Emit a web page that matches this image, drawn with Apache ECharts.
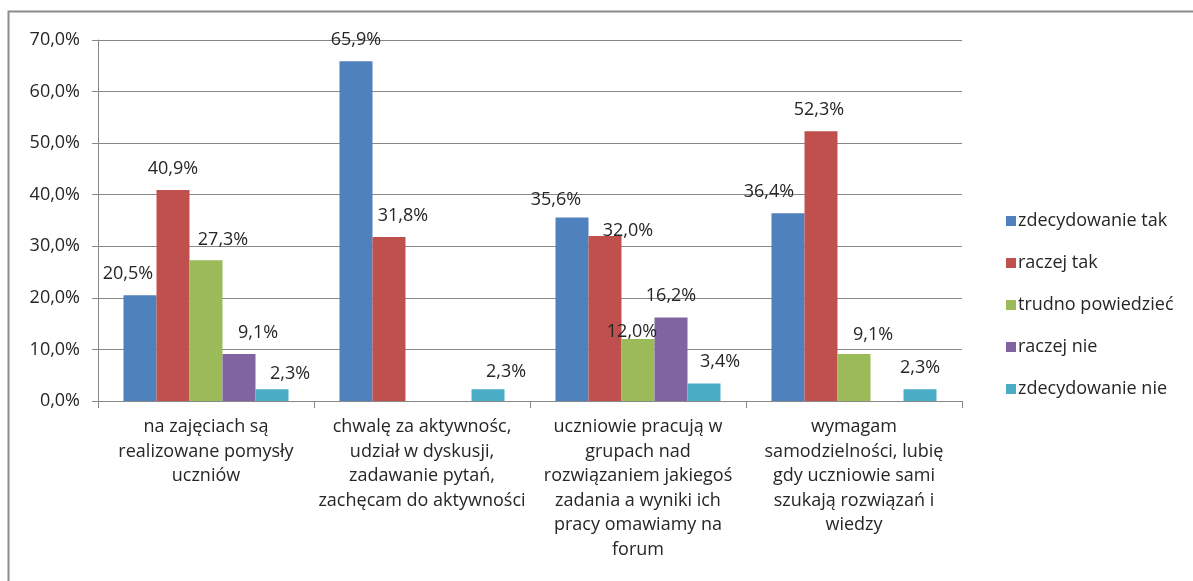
<!DOCTYPE html>
<html>
<head>
<meta charset="utf-8">
<script src="https://cdn.jsdelivr.net/npm/echarts@6/dist/echarts.min.js"></script>
<style>html,body{margin:0;padding:0;background:#fff}#c{width:1193px;height:581px}</style>
</head>
<body>
<div id="c"></div>
<script>
var categories = [
  'na zajęciach są\nrealizowane pomysły\nuczniów',
  'chwalę za aktywnośc,\nudział w dyskusji,\nzadawanie pytań,\nzachęcam do aktywności',
  'uczniowie pracują w\ngrupach nad\nrozwiązaniem jakiegoś\nzadania a wyniki ich\npracy omawiamy na\nforum',
  'wymagam\nsamodzielności, lubię\ngdy uczniowie sami\nszukają rozwiązań i\nwiedzy'
];
var seriesNames = ['zdecydowanie tak', 'raczej tak', 'trudno powiedzieć', 'raczej nie', 'zdecydowanie nie'];
var zdecydowanieTak = [20.5, 65.9, 35.6, 36.4];
var raczejTak = [40.9, 31.8, 32.0, 52.3];
var trudnoPowiedziec = [27.3, null, 12.0, 9.1];
var raczejNie = [9.1, null, 16.2, null];
var zdecydowanieNie = [2.3, 2.3, 3.4, 2.3];
var yTicks = { min: 0, max: 70, interval: 10 };

var colors = ['#4F81BD', '#C0504D', '#9BBB59', '#8064A2', '#4BACC6'];
// label nudges (dx, dy) per series per category, mimicking the reference's label placement
var labelNudges = [
  [[-12, 0], [0, 0], [-16, 3], [-19, 0]],
  [[0, 0], [14, 0], [23, 16], [-2, 0]],
  [[17, 1], [0, 0], [-6, 14], [19, 2]],
  [[19, 0], [0, 0], [0, -1], [0, 0]],
  [[18, 6], [18, 4], [16, -1], [0, 0]]
];
var allValues = [zdecydowanieTak, raczejTak, trudnoPowiedziec, raczejNie, zdecydowanieNie];
function fmt(v) { return v.toFixed(1).replace('.', ',') + '%'; }
var FONT = 'Open Sans';
var FS = 18;
var series = allValues.map(function (vals, si) {
  return {
    name: seriesNames[si],
    type: 'bar',
    barGap: '0%',
    barCategoryGap: '23.6%',
    itemStyle: { color: colors[si] },
    data: vals.map(function (v, ci) {
      return {
        value: v,
        label: { offset: labelNudges[si][ci] }
      };
    }),
    label: {
      show: true,
      position: 'top',
      distance: 12,
      color: '#262626',
      fontFamily: FONT,
      fontSize: FS,
      formatter: function (p) { return p.value == null ? '' : fmt(p.value); }
    }
  };
});

var chart = echarts.init(document.getElementById('c'), null, { renderer: 'canvas' });
chart.setOption({
  animation: false,
  backgroundColor: '#fff',
  grid: { left: 98, right: 231, top: 40, bottom: 180, containLabel: false },
  legend: {
    orient: 'vertical',
    left: 1001,
    top: 206,
    itemWidth: 10,
    itemHeight: 10,
    itemGap: 22,
    icon: 'rect',
    data: seriesNames,
    textStyle: { color: '#262626', fontFamily: FONT, fontSize: FS, lineHeight: 20, padding: [0, 0, 0, -3] }
  },
  xAxis: {
    type: 'category',
    data: categories,
    axisLine: { lineStyle: { color: '#878787', width: 1 } },
    axisTick: { show: true, alignWithLabel: false, length: 7, lineStyle: { color: '#878787' } },
    axisLabel: {
      interval: 0,
      margin: 14,
      color: '#262626',
      fontFamily: FONT,
      fontSize: FS,
      lineHeight: 24.5
    }
  },
  yAxis: {
    type: 'value',
    min: yTicks.min,
    max: yTicks.max,
    interval: yTicks.interval,
    axisLine: { show: true, lineStyle: { color: '#878787', width: 1 } },
    axisTick: { show: true, length: 6, inside: false, lineStyle: { color: '#878787' } },
    splitLine: { show: true, lineStyle: { color: '#878787', width: 1 } },
    axisLabel: {
      margin: 18,
      color: '#262626',
      fontFamily: FONT,
      fontSize: FS,
      formatter: function (v) { return fmt(v); }
    }
  },
  graphic: [{
    type: 'polyline',
    shape: { points: [[8.5, 581], [8.5, 11.5], [1193, 11.5]] },
    style: { stroke: '#8c8c8c', lineWidth: 2, fill: null },
    silent: true
  }],
  series: series
});
</script>
</body>
</html>
